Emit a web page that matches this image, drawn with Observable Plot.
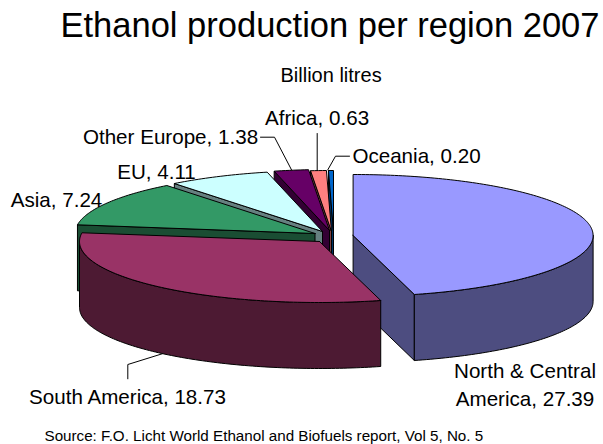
<!DOCTYPE html>
<html>
<head>
<meta charset="utf-8">
<script src="https://cdn.jsdelivr.net/npm/d3@7"></script>
<script src="https://cdn.jsdelivr.net/npm/@observablehq/plot@0.6"></script>
<style>
  html, body { margin: 0; padding: 0; background: #fff; }
  svg { display: block; }
</style>
</head>
<body>
<div id="chart"></div>
<script>
// Ethanol output per region, billion litres, clockwise from twelve o'clock
const regions = ["North & Central America", "South America", "Asia", "EU", "Other Europe", "Africa", "Oceania"];
const production = [27.39, 18.73, 7.24, 4.11, 1.38, 0.63, 0.20];

// Face and wall colours of each slice
const topColors = ["#9999ff", "#993366", "#339966", "#ccffff", "#660066", "#ff8080", "#0066cc"];
const sideColors = ["#4d4d80", "#4d1a33", "#1a4d33", "#668080", "#330033", "#804040", "#003366"];

// Exploded centre of each slice
const centerX = [352.6, 319, 314.5, 322, 329, 331, 333];
const centerY = [235, 241, 233, 231, 230, 231, 231];

// Ellipse of the tilted pie and the thickness of the disc
const rx = 240, ry = 61, depth = 66;

// Back-to-front drawing order, as indexes into the arrays above
const paintOrder = [0, 6, 5, 4, 3, 2, 1];

const W = 603, H = 444;
const arcs = d3.pie().sort(null).startAngle(0).endAngle(2 * Math.PI)(production);

const rim = (i, a) => ({x: centerX[i] + rx * Math.sin(a), y: centerY[i] - ry * Math.cos(a)});

function arcPoints(i, a0, a1) {
  const n = Math.max(2, Math.ceil((a1 - a0) / (Math.PI / 180)));
  return d3.range(n + 1).map(k => rim(i, a0 + (a1 - a0) * k / n));
}
const drop = p => ({x: p.x, y: p.y + depth});
const closed = pts => [...pts, pts[0]];

function radialWall(i, a) {
  const c = {x: centerX[i], y: centerY[i]}, e = rim(i, a);
  return closed([c, e, drop(e), drop(c)]);
}

function sliceFaces(i) {
  const {startAngle: a0, endAngle: a1} = arcs[i];
  const faces = [];
  if (Math.sin(a0) < -1e-6) faces.push({pts: radialWall(i, a0), fill: sideColors[i]});
  if (Math.sin(a1) > 1e-6) faces.push({pts: radialWall(i, a1), fill: sideColors[i]});
  const w0 = Math.max(a0, Math.PI / 2), w1 = Math.min(a1, 3 * Math.PI / 2);
  if (w1 > w0) {
    const outer = arcPoints(i, w0, w1);
    faces.push({pts: closed([...outer, ...outer.map(drop).reverse()]), fill: sideColors[i]});
  }
  faces.push({pts: closed([{x: centerX[i], y: centerY[i]}, ...arcPoints(i, a0, a1)]), fill: topColors[i]});
  return faces;
}

const sliceMarks = paintOrder.flatMap(sliceFaces).map(f =>
  Plot.line(f.pts, {x: "x", y: "y", fill: f.fill, stroke: "#000", strokeWidth: 1, curve: "linear"})
);

// Leader lines from the small or distant labels to their slices
const leaders = [
  [{x: 260, y: 136.7}, {x: 274, y: 136.7}, {x: 291, y: 169.3}],
  [{x: 316.7, y: 133}, {x: 316.7, y: 170}],
  [{x: 349, y: 155.7}, {x: 335, y: 155.7}, {x: 327.3, y: 169.3}],
  [{x: 161.7, y: 353.3}, {x: 127.3, y: 364}, {x: 127.3, y: 378.3}]
];
const leaderMarks = leaders.map(l =>
  Plot.line(l, {x: "x", y: "y", stroke: "#000", strokeWidth: 1, curve: "linear"})
);

const fmt = d3.format(".2f");
const sliceLabels = [
  {text: `North & Central`, x: 524.5, y: 371},
  {text: `America, ${fmt(production[0])}`, x: 524.5, y: 399},
  {text: `${regions[1]}, ${fmt(production[1])}`, x: 127, y: 397},
  {text: `${regions[2]}, ${fmt(production[2])}`, x: 56, y: 200},
  {text: `${regions[3]}, ${fmt(production[3])}`, x: 156, y: 172},
  {text: `${regions[4]}, ${fmt(production[4])}`, x: 170, y: 137},
  {text: `${regions[5]}, ${fmt(production[5])}`, x: 316.5, y: 118},
  {text: `${regions[6]}, ${fmt(production[6])}`, x: 416, y: 156}
];

const chart = Plot.plot({
  width: W,
  height: H,
  margin: 0,
  style: {background: "#fff"},
  x: {domain: [0, W], range: [0, W], axis: null},
  y: {domain: [0, H], range: [0, H], axis: null},
  marks: [
    ...sliceMarks,
    ...leaderMarks,
    Plot.text(sliceLabels, {
      x: "x", y: "y", text: "text", fontSize: 20.6, fill: "#000",
      fontFamily: "Liberation Sans", textAnchor: "middle", lineAnchor: "middle"
    }),
    Plot.text(["Ethanol production per region 2007"], {
      frameAnchor: "top-left", dx: 60, dy: 12, fontSize: 34.5, fill: "#000",
      fontFamily: "Liberation Sans", textAnchor: "start", lineAnchor: "top"
    }),
    Plot.text(["Billion litres"], {
      frameAnchor: "top-left", dx: 280, dy: 67, fontSize: 20, fill: "#000",
      fontFamily: "Liberation Sans", textAnchor: "start", lineAnchor: "top"
    }),
    Plot.text(["Source: F.O. Licht World Ethanol and Biofuels report, Vol 5, No. 5"], {
      frameAnchor: "top-left", dx: 44, dy: 430, fontSize: 15.2, fill: "#000",
      fontFamily: "Liberation Sans", textAnchor: "start", lineAnchor: "top"
    })
  ]
});
document.getElementById("chart").append(chart);
</script>
</body>
</html>
